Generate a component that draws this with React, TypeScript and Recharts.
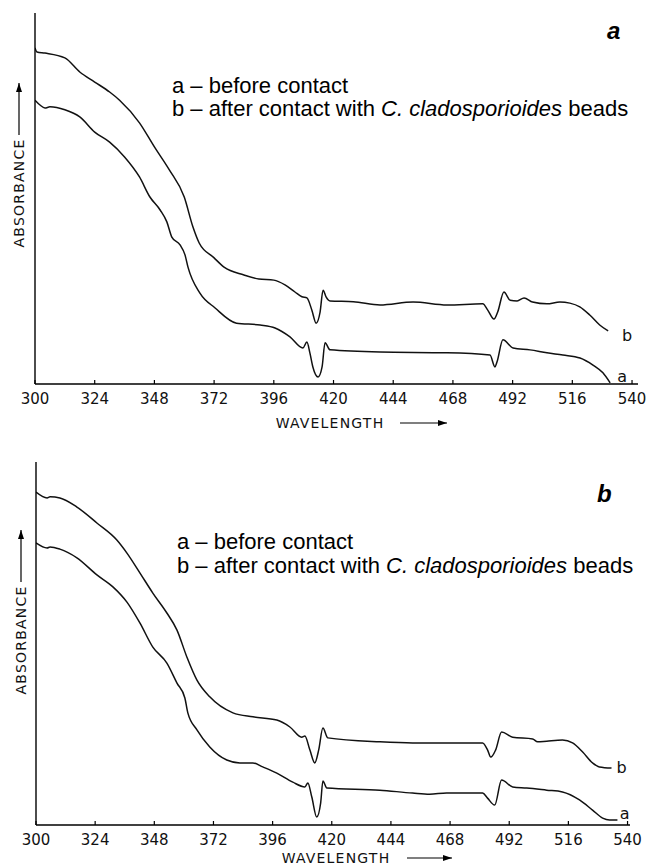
import { LineChart, Line, XAxis, YAxis, ReferenceDot } from 'recharts'

// panel a
const aAfterWl = [300, 300.8, 304, 312, 318, 324, 330, 334, 342, 348, 354, 360, 363.5, 366, 372, 376, 384, 390, 396, 400.5, 404.5, 407.3, 409.3, 411.3, 413, 414.6, 415.8, 417, 418.6, 428, 438.7, 452, 465.6, 480, 482, 484.5, 486, 488.5, 491, 493.8, 496.6, 500, 505.8, 511, 515, 519, 523, 527, 530.4]
const aAfterAbs = [0.906, 0.895, 0.892, 0.879, 0.841, 0.814, 0.787, 0.765, 0.704, 0.639, 0.577, 0.504, 0.423, 0.38, 0.34, 0.315, 0.294, 0.283, 0.28, 0.267, 0.248, 0.235, 0.232, 0.199, 0.164, 0.194, 0.253, 0.235, 0.224, 0.222, 0.213, 0.221, 0.213, 0.216, 0.199, 0.175, 0.194, 0.248, 0.226, 0.224, 0.232, 0.221, 0.216, 0.221, 0.218, 0.208, 0.186, 0.159, 0.143]
const aBeforeWl = [300, 302, 304, 306, 312, 318, 324, 330, 336, 342, 346.2, 350.3, 353, 355, 358.3, 360.3, 361.5, 366.3, 372.4, 381, 390.5, 396.5, 402.5, 407.7, 409.3, 410.5, 411.7, 413.8, 415.4, 416.6, 418.6, 438.7, 465.6, 482.9, 484.9, 485.7, 488.1, 492.2, 499, 505.8, 512.2, 519.1, 524.3, 528.3, 531.2]
const aBeforeAbs = [0.765, 0.752, 0.744, 0.747, 0.739, 0.72, 0.679, 0.652, 0.612, 0.558, 0.504, 0.469, 0.437, 0.396, 0.375, 0.348, 0.315, 0.245, 0.205, 0.164, 0.159, 0.151, 0.127, 0.097, 0.113, 0.084, 0.046, 0.019, 0.046, 0.111, 0.092, 0.086, 0.084, 0.078, 0.046, 0.059, 0.119, 0.097, 0.092, 0.084, 0.078, 0.07, 0.051, 0.03, 0.003]

// panel b
const bAfterWl = [300, 304.5, 305.7, 309.7, 316.6, 324.7, 332.8, 336.9, 342.2, 347.4, 353.1, 357.2, 361.2, 365.3, 370.5, 379.9, 388, 397.7, 403, 407.8, 409.1, 411.1, 413.1, 414.7, 416.4, 418.4, 439.5, 452.8, 466.6, 481.2, 483.2, 484.5, 486.5, 488.9, 493.4, 501.5, 503.5, 507.2, 513.6, 517.7, 521.8, 525.8, 528.6, 533.5]
const bAfterAbs = [0.917, 0.901, 0.904, 0.901, 0.876, 0.832, 0.785, 0.749, 0.694, 0.639, 0.584, 0.537, 0.463, 0.399, 0.353, 0.309, 0.298, 0.289, 0.27, 0.242, 0.245, 0.207, 0.171, 0.207, 0.267, 0.24, 0.229, 0.226, 0.226, 0.226, 0.207, 0.187, 0.207, 0.256, 0.242, 0.237, 0.229, 0.231, 0.234, 0.226, 0.201, 0.171, 0.16, 0.157]
const bBeforeWl = [300, 304.5, 305.7, 309.7, 316.6, 324.7, 331.2, 336.9, 342.2, 347.4, 353.1, 357.2, 360.4, 361.6, 365.3, 370.5, 377.4, 382.7, 388, 392, 397.7, 404.2, 409.1, 410.3, 411.9, 413.9, 415.5, 416.4, 418, 439.5, 452.8, 459.7, 466.6, 481.2, 483.2, 486.1, 488.9, 493.4, 499.1, 507.2, 513.6, 520.5, 525.8, 529.9, 532.7, 535.9]
const bBeforeAbs = [0.777, 0.763, 0.766, 0.76, 0.736, 0.689, 0.656, 0.614, 0.556, 0.49, 0.446, 0.391, 0.35, 0.309, 0.262, 0.215, 0.179, 0.171, 0.171, 0.16, 0.143, 0.118, 0.105, 0.116, 0.077, 0.022, 0.061, 0.121, 0.102, 0.096, 0.088, 0.085, 0.088, 0.088, 0.074, 0.055, 0.124, 0.105, 0.102, 0.096, 0.091, 0.069, 0.041, 0.019, 0.014, 0.014]

const wlTicks = [300, 324, 348, 372, 396, 420, 444, 468, 492, 516, 540]
const legendLines = ['a – before contact', 'b – after contact with ']

const zip = (wl: number[], ab: number[]) => wl.map((w, i) => ({ wl: w, abs: ab[i] }))

const techFont = '"DejaVu Sans", sans-serif'

const Tick = (p: any) => (
  <g>
    <line x1={p.x} x2={p.x} y1={p.y} y2={p.y - 4} stroke="#000" strokeWidth={1.2} />
    <text x={p.x} y={p.y + 20} textAnchor="middle" fontFamily={techFont} fontSize={15} fill="#111">
      {p.payload.value}
    </text>
  </g>
)

const Panel = ({ after, before, letter, dmax, size, margin, yLab, xLab, labB, labA }: any) => (
  <div style={{ position: 'relative', width: size[0], height: size[1] }}>
    <LineChart width={size[0]} height={size[1]} margin={margin}>
      <XAxis
        type="number"
        dataKey="wl"
        domain={[300, dmax]}
        ticks={wlTicks}
        interval={0}
        height={30}
        tickSize={0}
        tickMargin={0}
        tickLine={false}
        tick={<Tick />}
        axisLine={{ stroke: '#000', strokeWidth: 1.4 }}
        allowDataOverflow
        label={{
          content: () => (
            <g>
              <text x={xLab[0]} y={xLab[1]} textAnchor="middle" dominantBaseline="central" fontFamily={techFont} fontSize={14} letterSpacing={1.2} fill="#111">
                WAVELENGTH
              </text>
              <line x1={xLab[2]} x2={xLab[3]} y1={xLab[1]} y2={xLab[1]} stroke="#000" strokeWidth={1.2} />
              <path d={`M${xLab[3]},${xLab[1]} l-9,-3 l0,6 z`} fill="#000" />
            </g>
          ),
        }}
      />
      <YAxis
        type="number"
        domain={[0, 1]}
        width={10}
        tick={false}
        tickLine={false}
        axisLine={{ stroke: '#000', strokeWidth: 1.4 }}
        label={{
          content: () => (
            <g>
              <text
                x={yLab[0]}
                y={yLab[1]}
                transform={`rotate(-90 ${yLab[0]} ${yLab[1]})`}
                textAnchor="middle"
                dominantBaseline="central"
                fontFamily={techFont}
                fontSize={14}
                letterSpacing={1.2}
                fill="#111"
              >
                ABSORBANCE
              </text>
              <line x1={yLab[0]} x2={yLab[0]} y1={yLab[2]} y2={yLab[3]} stroke="#000" strokeWidth={1.2} />
              <path d={`M${yLab[0]},${yLab[3]} l-3,9 l6,0 z`} fill="#000" />
            </g>
          ),
        }}
      />
      <Line data={after} dataKey="abs" type="monotone" stroke="#111" strokeWidth={1.5} dot={false} isAnimationActive={false} />
      <Line data={before} dataKey="abs" type="monotone" stroke="#111" strokeWidth={1.5} dot={false} isAnimationActive={false} />
      <ReferenceDot x={labB[0]} y={labB[1]} r={0} fill="none" stroke="none" label={{ value: 'b', position: 'center', fontFamily: techFont, fontSize: 16, fill: '#111' }} />
      <ReferenceDot x={labA[0]} y={labA[1]} r={0} fill="none" stroke="none" label={{ value: 'a', position: 'center', fontFamily: techFont, fontSize: 16, fill: '#111' }} />
    </LineChart>
    <div
      style={{
        position: 'absolute',
        left: letter.x,
        top: letter.y,
        fontFamily: '"Liberation Sans", Arial, sans-serif',
        fontSize: 24,
        lineHeight: '24px',
        fontWeight: 'bold',
        fontStyle: 'italic',
      }}
    >
      {letter.t}
    </div>
    <div
      style={{
        position: 'absolute',
        left: letter.lx,
        top: letter.ly,
        fontFamily: '"Liberation Sans", Arial, sans-serif',
        fontSize: 22,
        lineHeight: `${letter.lh}px`,
        whiteSpace: 'nowrap',
        color: '#000',
      }}
    >
      <div>{legendLines[0]}</div>
      <div>
        {legendLines[1]}
        <i>C. cladosporioides</i> beads
      </div>
    </div>
  </div>
)

const App = () => {
  return (
    <div style={{ position: 'absolute', left: 0, top: 0, width: 646, height: 865, background: '#fff' }}>
      <Panel
        after={zip(aAfterWl, aAfterAbs)}
        before={zip(aBeforeWl, aBeforeAbs)}
        dmax={542.4}
        size={[646, 430]}
        margin={{ top: 13, right: 8, bottom: 16, left: 25 }}
        letter={{ t: 'a', x: 607, y: 19, lx: 172, ly: 74, lh: 23 }}
        yLab={[19, 193, 135, 83]}
        xLab={[330, 423, 400, 447]}
        labB={[538, 0.132]}
        labA={[536, 0.022]}
      />
      <div style={{ position: 'absolute', left: 0, top: 430 }}>
        <Panel
          after={zip(bAfterWl, bAfterAbs)}
          before={zip(bBeforeWl, bBeforeAbs)}
          dmax={541}
          size={[646, 435]}
          margin={{ top: 32, right: 16, bottom: 10, left: 26 }}
          letter={{ t: 'b', x: 597, y: 52, lx: 177, ly: 100, lh: 24 }}
          yLab={[21, 210, 152, 100]}
          xLab={[336, 428, 407, 452]}
          labB={[537.6, 0.16]}
          labA={[538.8, 0.033]}
        />
      </div>
    </div>
  )
}

export default App
